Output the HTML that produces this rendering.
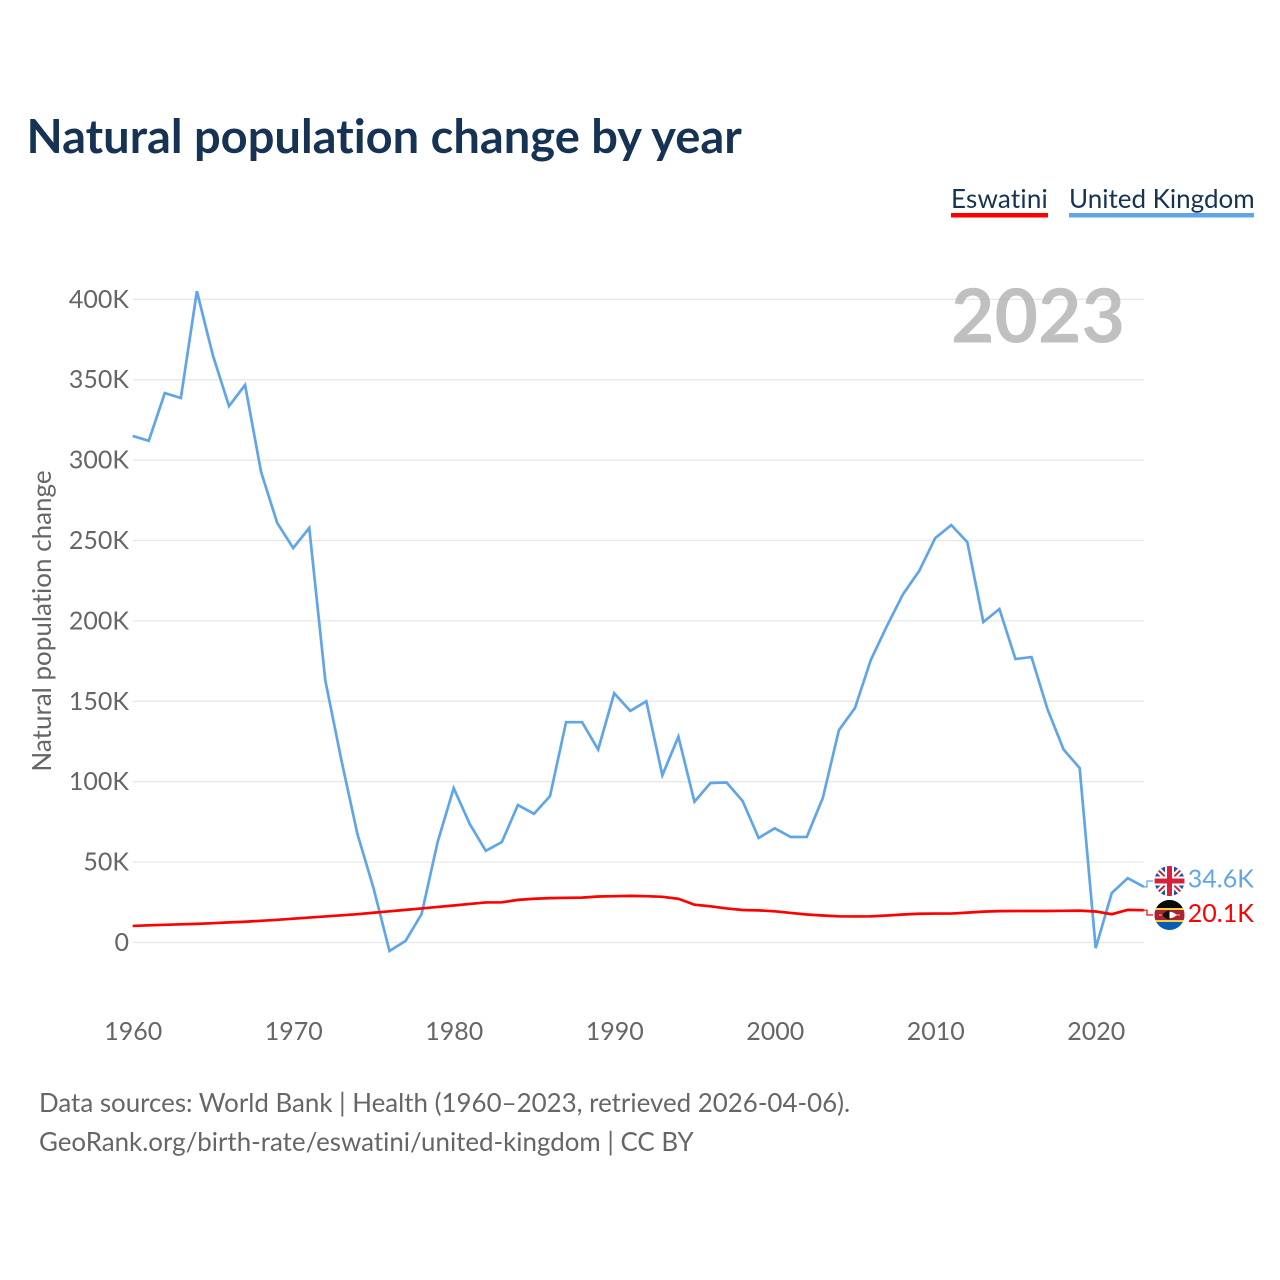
<!DOCTYPE html>
<html>
<head>
<meta charset="utf-8">
<style>
html,body{margin:0;padding:0;background:#fff;}
svg{display:block;}
text{font-family:"Lato","Carlito","Liberation Sans",sans-serif;font-variant-ligatures:none;font-feature-settings:"liga" 0,"clig" 0;}
</style>
</head>
<body>
<svg id="chart" xmlns="http://www.w3.org/2000/svg" width="1280" height="1280" viewBox="0 0 1280 1280">
<defs>
<clipPath id="clip-uk"><circle cx="1169.5" cy="881" r="15"/></clipPath>
<clipPath id="clip-sz"><circle cx="1169.5" cy="915" r="15"/></clipPath>
</defs>
<rect width="1280" height="1280" fill="#fff"/>
<text x="26.5" y="153" font-size="47.06" font-weight="700" fill="#163354">Natural population change by year</text>
<g>
<text x="951" y="208" font-size="26" letter-spacing="0.2" fill="#163354">Eswatini</text>
<rect x="951" y="213" width="97" height="4.5" fill="#ff0000"/>
</g>
<g>
<text x="1069" y="208" font-size="26" fill="#163354">United Kingdom</text>
<rect x="1069" y="213" width="185" height="4.5" fill="#60a5e8"/>
</g>
<text transform="translate(51,621) rotate(-90)" text-anchor="middle" font-size="26" fill="#666">Natural population change</text>
<g id="grid"></g>
<text x="1125" y="342.5" text-anchor="end" font-size="75" font-weight="700" fill="#b0b0b0" fill-opacity="0.8">2023</text>
<g id="y-ticks"></g>
<g id="x-ticks"></g>
<path id="line-uk" fill="none" stroke="#60a5e8" stroke-width="2.7" stroke-linejoin="miter"/>
<path id="line-sz" fill="none" stroke="#ff0000" stroke-width="2.7" stroke-linejoin="miter"/>
<path id="leader-uk" fill="none" stroke="#60a5e8" stroke-width="1.2"/>
<path id="leader-sz" fill="none" stroke="#ff0000" stroke-width="1.2"/>
<g clip-path="url(#clip-uk)">
<rect x="1154" y="866" width="31" height="30" fill="#1f4fa3"/>
<path d="M1154 866L1185 896M1185 866L1154 896" stroke="#fff" stroke-width="6"/>
<path d="M1154 866L1185 896M1185 866L1154 896" stroke="#d8203a" stroke-width="2"/>
<path d="M1169.5 866V896M1154 881H1185" stroke="#fff" stroke-width="9"/>
<path d="M1169.5 866V896M1154 881H1185" stroke="#d8203a" stroke-width="5"/>
</g>
<g clip-path="url(#clip-sz)">
<rect x="1154" y="900" width="31" height="30" fill="#0b5cb8"/>
<rect x="1154" y="900" width="31" height="8" fill="#0a0a0a"/>
<rect x="1154" y="908" width="31" height="14" fill="#f4d23c"/>
<rect x="1154" y="910" width="31" height="10" fill="#a9243a"/>
<path d="M1159 915H1180" stroke="#f4d23c" stroke-width="1"/>
<path d="M1162 915Q1169.5 908.5 1177 915Q1169.5 921.5 1162 915Z" fill="#fff"/>
<path d="M1162 915Q1166 910.5 1169.5 910.5V919.5Q1166 919.5 1162 915Z" fill="#111"/>
</g>
<text id="value-uk" x="1187.8" y="887.5" font-size="25" fill="#60a5e8">34.6K</text>
<text id="value-sz" x="1187.8" y="922" font-size="25" fill="#ff0000">20.1K</text>
<text x="39" y="1112" font-size="25.9" fill="#666">Data sources: World Bank | Health (1960–2023, retrieved 2026-04-06).</text>
<text x="39" y="1151" font-size="25.9" fill="#666">GeoRank.org/birth-rate/eswatini/united-kingdom | CC BY</text>
</svg>
<script>
var startYear = 1960;
var yTickValues = [0, 50, 100, 150, 200, 250, 300, 350, 400];
var xTickValues = [1960, 1970, 1980, 1990, 2000, 2010, 2020];
var ukValues = [315,312,341.7,338.6,405,365,333.6,346.7,292.6,261,245.3,257.8,163,113.5,67.5,34,-5.3,1,17.7,62.5,96,73.7,57,62.5,85.5,80,91,137,137,120,155,144,150,104,128,87.5,99.2,99.5,88,65,71,65.6,65.7,90,132,145.8,176,197,216.7,231,251.5,259.6,249,199.3,207.4,176.3,177.5,145,120,108.5,-3.5,30.8,40,34.6];
var eswatiniValues = [10.3,10.7,11,11.3,11.6,12,12.5,12.9,13.5,14.1,14.8,15.5,16.2,16.9,17.6,18.5,19.4,20.3,21.2,22.1,23,24,24.9,25,26.5,27.2,27.6,27.8,27.9,28.6,28.8,29,28.8,28.4,27.2,23.5,22.5,21.2,20.2,20,19.4,18.4,17.4,16.8,16.3,16.2,16.3,16.8,17.4,17.9,18,18,18.6,19.2,19.5,19.6,19.6,19.6,19.7,19.8,19.3,17.6,20.3,20.1];

var NS = 'http://www.w3.org/2000/svg';
function xScale(year) { return 132.7 + (year - 1960) * 16.05; }
function yScale(v) { return 942.5 - v * 1.608; }
function tickLabel(v) { return v === 0 ? '0' : v + 'K'; }
function linePath(values) {
  var d = '';
  for (var i = 0; i < values.length; i++) {
    d += (i ? 'L' : 'M') + xScale(startYear + i).toFixed(2) + ' ' + yScale(values[i]).toFixed(2);
  }
  return d;
}
function leaderPath(value, flagY) {
  var x = xScale(startYear + ukValues.length - 1);
  return 'M' + x.toFixed(2) + ' ' + yScale(value).toFixed(2) + 'H1147V' + flagY + 'H1153';
}
var grid = document.getElementById('grid');
var yTicks = document.getElementById('y-ticks');
var xTicks = document.getElementById('x-ticks');
yTickValues.forEach(function (v) {
  var ln = document.createElementNS(NS, 'line');
  
  
  ln.setAttribute('x1', 133);
  ln.setAttribute('x2', 1144);
  ln.setAttribute('y1', yScale(v));
  ln.setAttribute('y2', yScale(v));
  ln.setAttribute('stroke', '#e8e8e8');
  ln.setAttribute('stroke-width', '1.3');
  grid.appendChild(ln);
  var t = document.createElementNS(NS, 'text');
  
  
  t.setAttribute('x', 129);
  t.setAttribute('y', yScale(v) + 8.5);
  t.setAttribute('text-anchor', 'end');
  t.setAttribute('font-size', '25');
  t.setAttribute('fill', '#666');
  t.textContent = tickLabel(v);
  yTicks.appendChild(t);
});
xTickValues.forEach(function (year) {
  var t = document.createElementNS(NS, 'text');
  
  
  t.setAttribute('x', xScale(year) + 0.5);
  t.setAttribute('y', 1040);
  t.setAttribute('text-anchor', 'middle');
  t.setAttribute('font-size', '25');
  t.setAttribute('fill', '#666');
  t.textContent = year;
  xTicks.appendChild(t);
});
document.getElementById('line-uk').setAttribute('d', linePath(ukValues));
document.getElementById('line-sz').setAttribute('d', linePath(eswatiniValues));
document.getElementById('leader-uk').setAttribute('d', leaderPath(ukValues[ukValues.length - 1], 881));
document.getElementById('leader-sz').setAttribute('d', leaderPath(eswatiniValues[eswatiniValues.length - 1], 915));
</script>
</body>
</html>
